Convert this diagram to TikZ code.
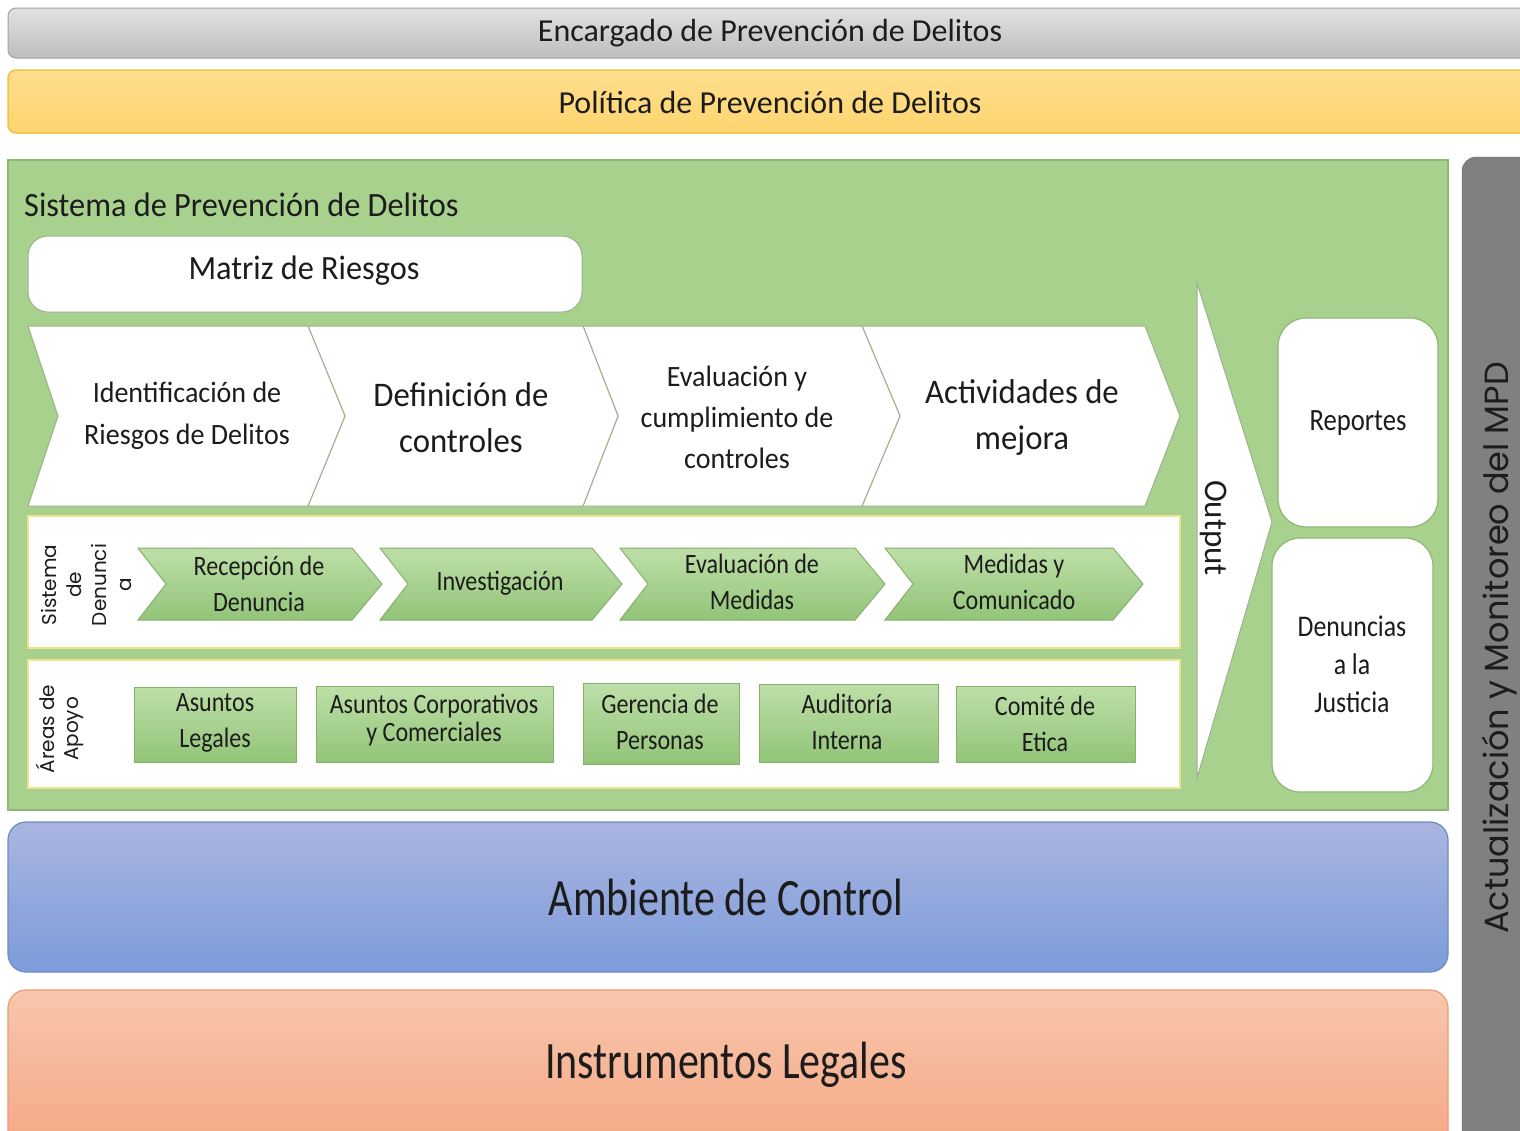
\documentclass[tikz,border=0pt]{standalone}
\usepackage{fontspec}
\setmainfont{Carlito}
\newfontfamily\cA{Carlito}[FakeStretch=0.95]
\newfontfamily\cB{Carlito}[FakeStretch=0.86]
\newfontfamily\cC{Carlito}[FakeStretch=0.80]
\newfontfamily\gothic{Poppins}
\definecolor{txt}{HTML}{1C1C1C}
\definecolor{mainGreen}{HTML}{A9D18E}
\definecolor{mainGreenEdge}{HTML}{8DB872}
\definecolor{bandEdge}{HTML}{EEE28C}
\definecolor{chevTop}{HTML}{BEDFA8}
\definecolor{chevBot}{HTML}{92C478}
\definecolor{chevEdge}{HTML}{86B06B}
\definecolor{whiteEdge}{HTML}{9DB08E}
\definecolor{grayTop}{HTML}{E2E2E2}
\definecolor{grayBot}{HTML}{BDBDBD}
\definecolor{grayEdge}{HTML}{A0A0A8}
\definecolor{yelTop}{HTML}{FFDE8E}
\definecolor{yelBot}{HTML}{FDD56E}
\definecolor{yelEdge}{HTML}{F4C243}
\definecolor{bluTop}{HTML}{AAB5DF}
\definecolor{bluBot}{HTML}{7C9CDA}
\definecolor{bluEdge}{HTML}{6C8BCB}
\definecolor{salTop}{HTML}{F8C6AC}
\definecolor{salBot}{HTML}{F4A682}
\definecolor{salEdge}{HTML}{E99C78}
\definecolor{sideGray}{HTML}{808080}
\newcommand\chev[7]{\draw[#7] (#1,#4) -- (#2,#4) -- (#3,{(#4+#5)/2}) -- (#2,#5) -- (#1,#5) -- ({#1+#6},{(#4+#5)/2}) -- cycle;}
\begin{document}
\begin{tikzpicture}[x=1pt,y=-1pt,
  lbl/.style={text=txt, align=center, inner sep=0pt},
  ftop/.style={font=\fontsize{32}{38}\selectfont},
  fbig/.style={font=\cA\fontsize{34}{40}\selectfont},
  fchevA/.style={font=\cA\fontsize{29.5}{42}\selectfont},
  fchevB/.style={font=\cA\fontsize{34.5}{46}\selectfont},
  fsmall/.style={font=\cB\fontsize{28}{36}\selectfont},
  fhuge/.style={font=\cC\fontsize{52.5}{60}\selectfont},
  bigchev/.style={fill=white, draw=whiteEdge, line width=1pt},
  smallchev/.style={top color=chevTop, bottom color=chevBot, draw=chevEdge, line width=1pt},
  greenbox/.style={top color=chevTop, bottom color=chevBot, draw=chevEdge, line width=1pt},
  band/.style={fill=white, draw=bandEdge, line width=2.5pt},
  outbox/.style={fill=white, draw=mainGreenEdge, line width=1.2pt, rounded corners=28pt},
  vlab/.style={text=txt, align=center, inner sep=0pt, rotate=90, font=\gothic\fontsize{20}{25}\selectfont}
]
\useasboundingbox (0,0) rectangle (1520,1130);
\clip (0,0) rectangle (1520,1130);
\fill[white] (0,0) rectangle (1520,1130);

% top bars
\draw[top color=grayTop, bottom color=grayBot, draw=grayEdge, line width=1pt, rounded corners=8pt] (8,8) rectangle (1540,58);
\node[lbl,ftop] (enc) at (770,33) {Encargado de Prevención de Delitos};
\draw[top color=yelTop, bottom color=yelBot, draw=yelEdge, line width=1.5pt, rounded corners=8pt] (8,70) rectangle (1540,133);
\node[lbl,ftop] (pol) at (770,103) {Política de Prevención de Delitos};

% right side bar
\draw[fill=sideGray, draw=sideGray!80!black, rounded corners=14pt] (1462,157) rectangle (1560,1160);
\node[lbl, rotate=90, font=\gothic\fontsize{33.5}{40}\selectfont] (act) at (1500,648) {Actualización y Monitoreo del MPD};

% main green box
\draw[fill=mainGreen, draw=mainGreenEdge, line width=1.5pt] (8,160) rectangle (1448,810);
\node[lbl,fbig,anchor=west] (spd) at (24,205) {Sistema de Prevención de Delitos};

% matriz
\draw[fill=white, draw=whiteEdge, line width=1pt, rounded corners=20pt] (28,236) rectangle (582,312);
\node[lbl,fbig] (mat) at (304,271) {Matriz de Riesgos};

% big chevrons
\chev{862}{1145}{1180}{326}{506}{38}{bigchev}
\chev{583}{862}{900}{326}{506}{35}{bigchev}
\chev{308}{583}{618}{326}{506}{37}{bigchev}
\chev{28}{308}{345}{326}{506}{30}{bigchev}
\node[lbl,fchevA] (c1) at (187,416) {Identificación de\\Riesgos de Delitos};
\node[lbl,fchevB] (c2) at (461,418) {Definición de\\controles};
\node[lbl,font=\cA\fontsize{29.5}{41}\selectfont] (c3) at (737,417) {Evaluación y\\cumplimiento de\\controles};
\node[lbl,fchevB] (c4) at (1022,417) {Actividades de\\mejora};

% sistema de denuncia band
\draw[band] (28,516) rectangle (1180,648);
\node[vlab] (sdd) at (86,585) {Sistema\\de\\Denunci\\a};
\chev{138}{352}{382}{548}{620}{28}{smallchev}
\chev{380}{592}{622}{548}{620}{28}{smallchev}
\chev{620}{855}{885}{548}{620}{28}{smallchev}
\chev{885}{1113}{1143}{548}{620}{28}{smallchev}
\node[lbl,fsmall] (d1) at (259,584) {Recepción de\\Denuncia};
\node[lbl,fsmall] (d2) at (500,583) {Investigación};
\node[lbl,fsmall] (d3) at (752,582) {Evaluación de\\Medidas};
\node[lbl,fsmall] (d4) at (1014,582) {Medidas y\\Comunicado};

% areas de apoyo band
\draw[band] (28,660) rectangle (1180,788);
\node[vlab, font=\gothic\fontsize{20}{24}\selectfont] (ada) at (60,729) {Áreas de\\Apoyo};
\draw[greenbox] (134,687) rectangle (296,762);
\node[lbl,fsmall] (a1) at (215,723) {Asuntos\\Legales};
\draw[greenbox] (316,686) rectangle (553,762);
\node[lbl,font=\cB\fontsize{28}{28}\selectfont] (a2) at (434,720) {Asuntos Corporativos\\y Comerciales};
\draw[greenbox] (583,683) rectangle (739,764);
\node[lbl,fsmall] (a3) at (660,722) {Gerencia de\\Personas};
\draw[greenbox] (759,684) rectangle (938,762);
\node[lbl,fsmall] (a4) at (847,722) {Auditoría\\Interna};
\draw[greenbox] (956,686) rectangle (1135,762);
\node[lbl,fsmall] (a5) at (1045,724) {Comité de\\Etica};

% output arrow
\draw[fill=white, draw=whiteEdge, line width=1pt] (1197,283) -- (1272,522) -- (1197,778) -- cycle;
\node[lbl,font=\fontsize{33}{38}\selectfont,rotate=-90] (out) at (1214,528) {Output};

% output boxes
\draw[outbox] (1278,318) rectangle (1438,527);
\node[lbl,font=\cB\fontsize{31}{38}\selectfont] (rep) at (1358,423) {Reportes};
\draw[outbox] (1272,538) rectangle (1433,792);
\node[lbl,font=\cB\fontsize{30}{38}\selectfont] (den) at (1352,664) {Denuncias\\a la\\Justicia};

% ambiente
\draw[top color=bluTop, bottom color=bluBot, draw=bluEdge, line width=1.2pt, rounded corners=18pt] (8,822) rectangle (1448,972);
\node[lbl,fhuge] (amb) at (726,897) {Ambiente de Control};
\draw[top color=salTop, bottom color=salBot, draw=salEdge, line width=1.2pt, rounded corners=18pt] (8,990) rectangle (1448,1160);
\node[lbl,fhuge] (ins) at (726,1065) {Instrumentos Legales};
\end{tikzpicture}
\end{document}
